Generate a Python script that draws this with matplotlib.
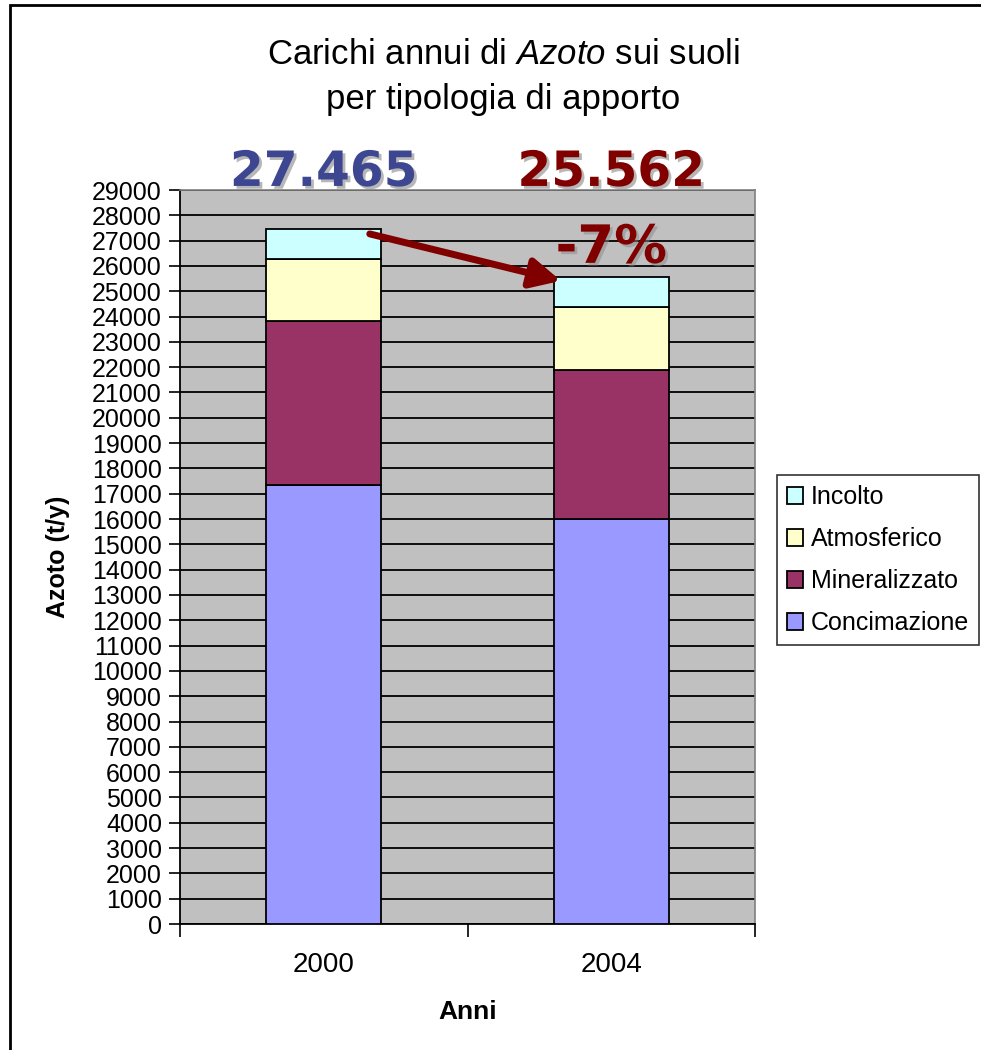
import numpy as np
import matplotlib
matplotlib.use("Agg")
import matplotlib.pyplot as plt
import matplotlib.patheffects as pe
from matplotlib.patches import Rectangle

plt.rcParams['font.family'] = ['Liberation Sans', 'DejaVu Sans']
plt.rcParams['mathtext.fontset'] = 'custom'
plt.rcParams['mathtext.rm'] = 'Liberation Sans'
plt.rcParams['mathtext.it'] = 'Liberation Sans:italic'

# data (t/y)
anni = ['2000', '2004']
concimazione = [17330, 16010]
mineralizzato = [6490, 5880]
atmosferico = [2450, 2490]
incolto = [1195, 1182]
totali_label = ['27.465', '25.562']
variazione = '-7%'

serie = [('Concimazione', concimazione, '#9999FF'),
         ('Mineralizzato', mineralizzato, '#993366'),
         ('Atmosferico', atmosferico, '#FFFFCC'),
         ('Incolto', incolto, '#CCFFFF')]

W, H = 981, 1050
fig = plt.figure(figsize=(W / 100, H / 100), dpi=100)
ax = fig.add_axes([180 / W, (H - 924) / H, 575 / W, 734 / H])
ax.set_facecolor('#C0C0C0')

x = np.array([0.5, 1.5])
bottom = np.zeros(2)
handles = []
for nome, vals, col in serie:
    b = ax.bar(x, vals, 0.4, bottom=bottom, color=col, edgecolor='black',
               linewidth=1.3, label=nome, zorder=3)
    handles.append(b)
    bottom = bottom + np.array(vals)
totali = bottom

ax.set_xlim(0, 2)
ax.set_ylim(0, 29000)
ax.set_yticks(np.arange(0, 29001, 1000))
ax.set_yticklabels([str(v) for v in range(0, 29001, 1000)], fontsize=18)
ax.yaxis.grid(True, color='black', linewidth=1.3, zorder=1)
ax.set_axisbelow(True)
ax.set_xticks([0, 1, 2])
ax.set_xticklabels(['', '', ''])
ax.set_xticks(x, minor=True)
ax.set_xticklabels(anni, minor=True, fontsize=20)
ax.tick_params(axis='x', which='minor', length=0, pad=20)
ax.tick_params(axis='x', which='major', length=9, width=1.2, direction='out')
ax.tick_params(axis='y', length=8, width=1.2, pad=5)
for s in ['top', 'right']:
    ax.spines[s].set_color('#808080')
    ax.spines[s].set_linewidth(1.2)
for s in ['left', 'bottom']:
    ax.spines[s].set_linewidth(1.3)

ax.set_ylabel('Azoto (t/y)', fontsize=18, fontweight='bold', labelpad=16)
ax.set_xlabel('Anni', fontsize=19, fontweight='bold', labelpad=16)

# titolo
fig.text(503 / W, 1 - 54 / H, r'Carichi annui di $\mathit{Azoto}$ sui suoli',
         ha='center', va='center', fontsize=25)
fig.text(503 / W, 1 - 100 / H, 'per tipologia di apporto',
         ha='center', va='center', fontsize=25)

# totali sopra le barre
colori_tot = ['#3D4690', '#800000']
for xi, lab, c in zip(x, totali_label, colori_tot):
    ax.annotate(lab, xy=(xi, 1), xycoords=('data', 'axes fraction'),
                xytext=(0, 13), textcoords='offset points',
                ha='center', va='center', fontsize=35, fontweight='bold',
                color=c, family=['DejaVu Sans'],
                path_effects=[pe.withSimplePatchShadow(offset=(2, -2),
                                                       shadow_rgbFace='#888888', alpha=0.6)])

# freccia e variazione
ax.annotate('', xy=(x[1] - 0.175, totali[1] - 150),
            xytext=(x[0] + 0.16, totali[0] - 200),
            arrowprops=dict(arrowstyle='-|>,head_length=1.8,head_width=0.9',
                            color='#800000', lw=5, shrinkA=0, shrinkB=0),
            zorder=5)
ax.annotate(variazione, xy=(x[1], totali[1]), xytext=(0, 21),
            textcoords='offset points', ha='center', va='center',
            fontsize=38, fontweight='bold', color='#800000',
            family=['DejaVu Sans'],
            path_effects=[pe.withSimplePatchShadow(offset=(2, -2),
                                                   shadow_rgbFace='#888888', alpha=0.5)],
            zorder=6)

# legenda
leg = fig.legend(handles[::-1], [s[0] for s in serie][::-1],
                 loc='upper left', bbox_to_anchor=(777 / W, 1 - 475 / H),
                 fontsize=18, frameon=True, fancybox=False, edgecolor='black',
                 handlelength=0.65, handleheight=0.65, handletextpad=0.3,
                 borderpad=0.4, labelspacing=0.72, borderaxespad=0)
leg.get_frame().set_linewidth(1.2)

# cornice esterna
fig.patches.append(Rectangle((10 / W, -0.1), 1.1, 1.1 - 5 / H, transform=fig.transFigure,
                             fill=False, edgecolor='black', linewidth=2))

fig.savefig('out.png', dpi=100)
